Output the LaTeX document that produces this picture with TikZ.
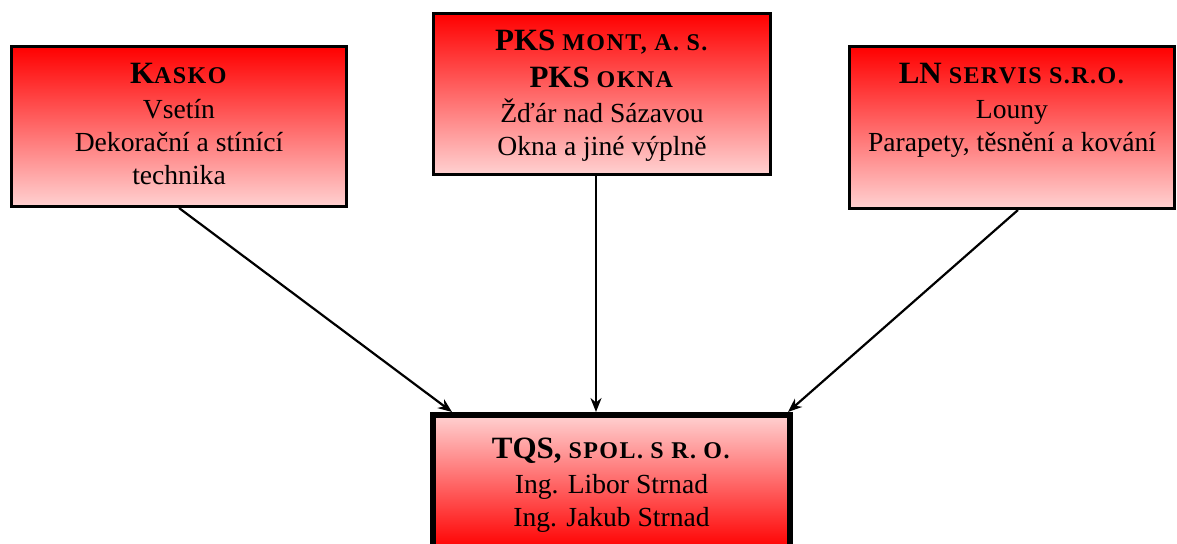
\documentclass[tikz,border=0pt]{standalone}
\usepackage{fontspec}
\setmainfont{Liberation Serif}
\usetikzlibrary{arrows.meta}
\colorlet{firmtop}{red}
\colorlet{firmbottom}{red!18}
\newcommand{\capbig}[1]{{\fontsize{15.5}{18}\selectfont #1}}
\newcommand{\capsmall}[1]{{\fontsize{12}{18}\selectfont\addfontfeature{LetterSpace=6} #1}}
\tikzstyle{firm}=[draw,line width=1.5pt,top color=firmtop,bottom color=firmbottom,inner sep=0pt]
\tikzstyle{firmtext}=[anchor=north,align=center,yshift=-5.5pt,
  font=\fontsize{13.8}{16.5}\selectfont]

\begin{document}
\begin{tikzpicture}[x=0.5pt, y=-0.5pt, >={Stealth[length=7pt,width=5.5pt]}]
  \useasboundingbox (0,0) rectangle (1177,544);

  \node[firm, minimum width=167.5pt, minimum height=80pt,
    label={[firmtext]north:{\textbf{\capbig{K}\capsmall{ASKO}}\\[1pt]
      Vsetín\\ Dekorační a stínící\\ technika}}] (kasko) at (179,126.5) {};
  \node[firm, minimum width=168.5pt, minimum height=80.5pt,
    label={[firmtext]north:{\textbf{\capbig{PKS} \capsmall{MONT, A. S.}}\\[2pt]
      \textbf{\capbig{PKS} \capsmall{OKNA}}\\[1pt]
      Žďár nad Sázavou\\ Okna a jiné výplně}}] (pks) at (602,94) {};
  \node[firm, minimum width=162.5pt, minimum height=81pt,
    label={[firmtext]north:{\textbf{\capbig{LN} \capsmall{SERVIS S.R.O.}}\\[1pt]
      Louny\\ Parapety, těsnění a kování}}] (ln) at (1012,127.5) {};

  \node[firm, line width=3pt, top color=firmbottom, bottom color=firmtop,
    minimum width=178.5pt, minimum height=67pt,
    label={[firmtext, yshift=-4pt]north:{\textbf{\capbig{TQS,} \capsmall{SPOL. S R. O.}}\\[1pt]
      Ing. Libor Strnad\\ Ing. Jakub Strnad}}] (tqs) at (611.5,482) {};

  \draw[->, line width=1.1pt] (kasko.south) -- ([xshift=11pt]tqs.north west);
  \draw[->, line width=1.1pt] ([xshift=-3pt]pks.south) -- ([xshift=-3pt]pks.south |- tqs.north);
  \draw[->, line width=1.1pt] ([xshift=3pt]ln.south) -- ([xshift=-2.5pt]tqs.north east);
\end{tikzpicture}
\end{document}
